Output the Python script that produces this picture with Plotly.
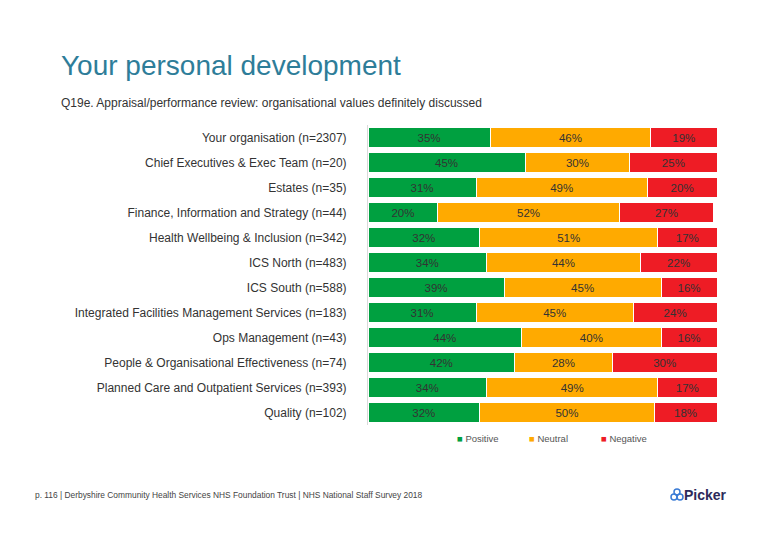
import plotly.graph_objects as go

categories = [
    "Your organisation (n=2307)",
    "Chief Executives & Exec Team (n=20)",
    "Estates (n=35)",
    "Finance, Information and Strategy (n=44)",
    "Health Wellbeing & Inclusion (n=342)",
    "ICS North (n=483)",
    "ICS South (n=588)",
    "Integrated Facilities Management Services (n=183)",
    "Ops Management (n=43)",
    "People & Organisational Effectiveness (n=74)",
    "Planned Care and Outpatient Services (n=393)",
    "Quality (n=102)",
]
positive = [35, 45, 31, 20, 32, 34, 39, 31, 44, 42, 34, 32]
neutral = [46, 30, 49, 52, 51, 44, 45, 45, 40, 28, 49, 50]
negative = [19, 25, 20, 27, 17, 22, 16, 24, 16, 30, 17, 18]

series = [
    ("Positive", positive, "#00A040"),
    ("Neutral", neutral, "#FFAA00"),
    ("Negative", negative, "#EE1C25"),
]

# page offset (browser body margin) compensation
OFF = 8
W, H = 780 - OFF, 540 - OFF
L, R, T, B = 368 - OFF, 63, 125 - OFF, H - (425 - OFF)
pw, ph = W - L - R, H - T - B


def px(x):
    return (x - OFF - L) / pw


def py(y):
    return (H - B - (y - OFF)) / ph


fig = go.Figure()
for name, vals, col in series:
    fig.add_trace(go.Bar(
        y=categories, x=vals, orientation="h", name=name,
        marker=dict(color=col, line=dict(color="white", width=1)),
        text=[f"{v}%" for v in vals], textposition="inside",
        insidetextanchor="middle",
        textfont=dict(family="Liberation Sans, Arial", size=11.5, color="#333333"),
        showlegend=False, hoverinfo="skip",
    ))
# legend entries: coloured square drawn as text so it sits close to the label
for name, vals, col in series:
    fig.add_trace(go.Scatter(
        x=[None], y=[None], mode="markers",
        name=f"<span style='color:{col}'>■</span> {name}",
        marker=dict(symbol="square", size=6, color="rgba(0,0,0,0)"),
    ))
# spacer so the last legend label is not clipped
fig.add_trace(go.Scatter(
    x=[None], y=[None], mode="markers", name=" ",
    marker=dict(symbol="square", size=6, color="rgba(0,0,0,0)"),
))

fig.update_layout(
    barmode="stack",
    bargap=0.2,
    width=W, height=H,
    margin=dict(l=L, r=R, t=T, b=B, autoexpand=False),
    paper_bgcolor="white", plot_bgcolor="white",
    font=dict(family="Liberation Sans, Arial", color="#333333"),
    xaxis=dict(range=[0, 100], visible=False, fixedrange=True),
    yaxis=dict(autorange="reversed", showline=True, linecolor="#D9D9D9",
               linewidth=1, ticks="", showgrid=False, ticklabelstandoff=18,
               automargin=False,
               tickfont=dict(size=12, color="#333333")),
    legend=dict(orientation="h", traceorder="normal", x=px(417),
                xanchor="left", y=py(424), yanchor="top",
                font=dict(size=9.5, color="#555555"),
                entrywidth=27, entrywidthmode="pixels", itemwidth=30),
    annotations=[
        dict(text="Your personal development", xref="paper", yref="paper",
             x=px(59), y=py(66), xanchor="left", yanchor="middle", showarrow=False,
             font=dict(size=28, color="#2E7D99")),
        dict(text="Q19e. Appraisal/performance review: organisational values definitely discussed",
             xref="paper", yref="paper", x=px(59), y=py(103), xanchor="left",
             yanchor="middle", showarrow=False,
             font=dict(size=12, color="#333333")),
        dict(text="p. 116 | Derbyshire Community Health Services NHS Foundation Trust | NHS National Staff Survey 2018",
             xref="paper", yref="paper", x=px(33), y=py(495), xanchor="left",
             yanchor="middle", showarrow=False,
             font=dict(size=8.4, color="#444444")),
        dict(text="<b>Picker</b>", xref="paper", yref="paper", x=px(682), y=py(495),
             xanchor="left", yanchor="middle", showarrow=False,
             font=dict(size=14, color="#2D2A5A")),
    ],
)

# Picker logo icon (small circles)
for cx, cy in [(674, 497), (680, 497), (677, 492)]:
    fig.add_shape(type="circle", xref="paper", yref="paper",
                  x0=px(cx - 3), x1=px(cx + 3), y0=py(cy + 3), y1=py(cy - 3),
                  line=dict(color="#3A7BD5", width=1.5))

fig.write_html("out.html")
